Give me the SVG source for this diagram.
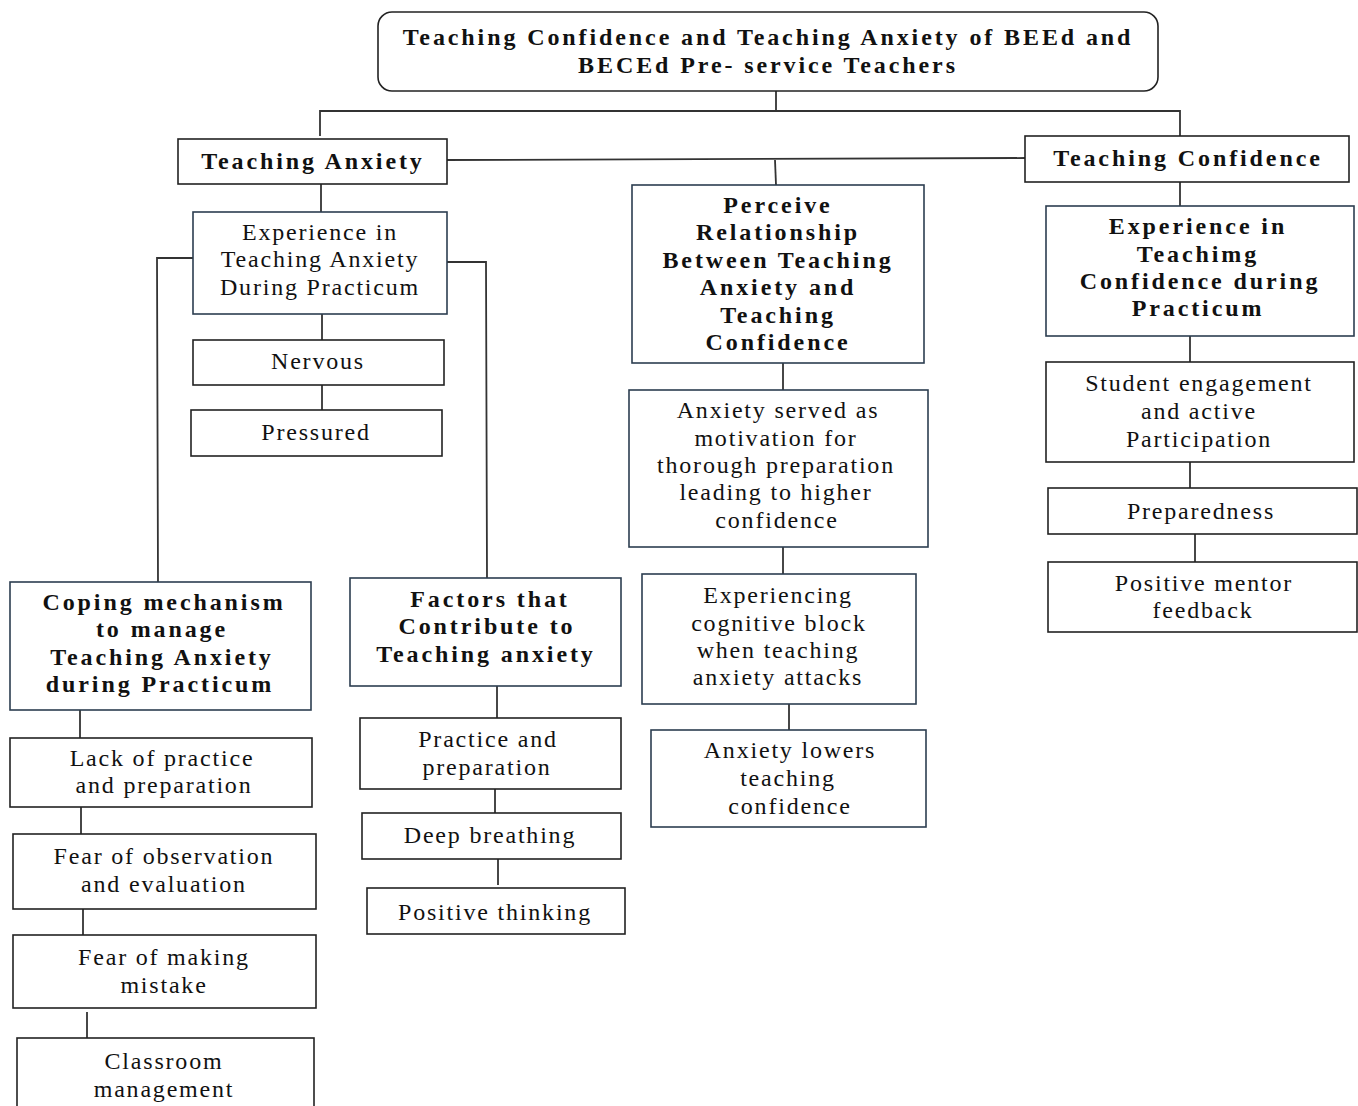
<svg xmlns="http://www.w3.org/2000/svg" width="1358" height="1106" viewBox="0 0 1358 1106">
<style>
.box{fill:#fff;stroke:#222;stroke-width:1.6}
.bx2{fill:#fff;stroke:#2c3e50;stroke-width:1.6}
.c{fill:none;stroke:#333;stroke-width:1.8}
text{font-family:"Liberation Serif","Times New Roman",serif;font-size:24px;fill:#111;text-anchor:middle;letter-spacing:1.8px}
.b{font-weight:bold;letter-spacing:2.9px}
</style>
<rect width="1358" height="1106" fill="#fff"/>
<g id="connectors">
<polyline class="c" points="776,91 776,111"/>
<polyline class="c" points="320,136 320,111 1180,111 1180,136"/>
<polyline class="c" points="447,160 1025,158"/>
<polyline class="c" points="775,160 776,185"/>
<polyline class="c" points="321,184 321,212"/>
<polyline class="c" points="193,258 157,258 158,582"/>
<polyline class="c" points="447,262 486,262 487,578"/>
<polyline class="c" points="322,314 322,340"/>
<polyline class="c" points="322,385 322,410"/>
<polyline class="c" points="80,710 80,738"/>
<polyline class="c" points="81,807 81,834"/>
<polyline class="c" points="83,909 83,935"/>
<polyline class="c" points="87,1012 87,1038"/>
<polyline class="c" points="497,686 497,718"/>
<polyline class="c" points="495,789 495,813"/>
<polyline class="c" points="498,859 498,885"/>
<polyline class="c" points="783,363 783,390"/>
<polyline class="c" points="783,547 783,574"/>
<polyline class="c" points="789,704 789,730"/>
<polyline class="c" points="1180,182 1180,206"/>
<polyline class="c" points="1190,336 1190,362"/>
<polyline class="c" points="1190,462 1190,488"/>
<polyline class="c" points="1195,534 1195,562"/>
</g>
<g id="title"><rect class="box" x="378" y="12" width="780" height="79" rx="14"/>
<text class="b" x="768" y="45">Teaching Confidence and Teaching Anxiety of BEEd and</text>
<text class="b" x="768" y="73">BECEd Pre- service Teachers</text></g>
<g id="teaching-anxiety"><rect class="box" x="178" y="139" width="269" height="45"/>
<text class="b" x="313" y="169">Teaching Anxiety</text></g>
<g id="teaching-confidence"><rect class="box" x="1025" y="136" width="324" height="46"/>
<text class="b" x="1188" y="166">Teaching Confidence</text></g>
<g id="perceive"><rect class="bx2" x="632" y="185" width="292" height="178"/>
<text class="b" x="778" y="213">Perceive</text>
<text class="b" x="778" y="240">Relationship</text>
<text class="b" x="778" y="268">Between Teaching</text>
<text class="b" x="778" y="295">Anxiety and</text>
<text class="b" x="778" y="323">Teaching</text>
<text class="b" x="778" y="350">Confidence</text></g>
<g id="exp-anxiety"><rect class="bx2" x="193" y="212" width="254" height="102"/>
<text x="320" y="240">Experience in</text>
<text x="320" y="267">Teaching Anxiety</text>
<text x="320" y="295">During Practicum</text></g>
<g id="nervous"><rect class="box" x="193" y="340" width="251" height="45"/>
<text x="318" y="369">Nervous</text></g>
<g id="pressured"><rect class="box" x="191" y="410" width="251" height="46"/>
<text x="316" y="440">Pressured</text></g>
<g id="coping"><rect class="bx2" x="10" y="582" width="301" height="128"/>
<text class="b" x="164" y="610">Coping mechanism</text>
<text class="b" x="162" y="637">to manage</text>
<text class="b" x="162" y="665">Teaching Anxiety</text>
<text class="b" x="160" y="692">during Practicum</text></g>
<g id="lack"><rect class="box" x="10" y="738" width="302" height="69"/>
<text x="162" y="766">Lack of practice</text>
<text x="164" y="793">and preparation</text></g>
<g id="fear-obs"><rect class="box" x="13" y="834" width="303" height="75"/>
<text x="164" y="864">Fear of observation</text>
<text x="164" y="892">and evaluation</text></g>
<g id="fear-mistake"><rect class="box" x="13" y="935" width="303" height="73"/>
<text x="164" y="965">Fear of making</text>
<text x="164" y="993">mistake</text></g>
<g id="classroom"><rect class="box" x="17" y="1038" width="297" height="75"/>
<text x="164" y="1069">Classroom</text>
<text x="164" y="1097">management</text></g>
<g id="factors"><rect class="bx2" x="350" y="578" width="271" height="108"/>
<text class="b" x="490" y="607">Factors that</text>
<text class="b" x="487" y="634">Contribute to</text>
<text class="b" x="486" y="662">Teaching anxiety</text></g>
<g id="practice"><rect class="box" x="360" y="718" width="261" height="71"/>
<text x="488" y="747">Practice and</text>
<text x="487" y="775">preparation</text></g>
<g id="deep"><rect class="box" x="362" y="813" width="259" height="46"/>
<text x="490" y="843">Deep breathing</text></g>
<g id="positive-thinking"><rect class="box" x="367" y="888" width="258" height="46"/>
<text x="495" y="920">Positive thinking</text></g>
<g id="anxiety-served"><rect class="bx2" x="629" y="390" width="299" height="157"/>
<text x="778" y="418">Anxiety served as</text>
<text x="776" y="446">motivation for</text>
<text x="776" y="473">thorough preparation</text>
<text x="776" y="500">leading to higher</text>
<text x="777" y="528">confidence</text></g>
<g id="cognitive"><rect class="bx2" x="642" y="574" width="274" height="130"/>
<text x="778" y="603">Experiencing</text>
<text x="779" y="631">cognitive block</text>
<text x="778" y="658">when teaching</text>
<text x="778" y="685">anxiety attacks</text></g>
<g id="lowers"><rect class="bx2" x="651" y="730" width="275" height="97"/>
<text x="790" y="758">Anxiety lowers</text>
<text x="788" y="786">teaching</text>
<text x="790" y="814">confidence</text></g>
<g id="exp-confidence"><rect class="bx2" x="1046" y="206" width="308" height="130"/>
<text class="b" x="1198" y="234">Experience in</text>
<text class="b" x="1198" y="262">Teachimg</text>
<text class="b" x="1200" y="289">Confidence during</text>
<text class="b" x="1198" y="316">Practicum</text></g>
<g id="engagement"><rect class="box" x="1046" y="362" width="308" height="100"/>
<text x="1199" y="391">Student engagement</text>
<text x="1199" y="419">and active</text>
<text x="1199" y="447">Participation</text></g>
<g id="preparedness"><rect class="box" x="1048" y="488" width="309" height="46"/>
<text x="1201" y="519">Preparedness</text></g>
<g id="mentor"><rect class="box" x="1048" y="562" width="309" height="70"/>
<text x="1204" y="591">Positive mentor</text>
<text x="1203" y="618">feedback</text></g>
</svg>
